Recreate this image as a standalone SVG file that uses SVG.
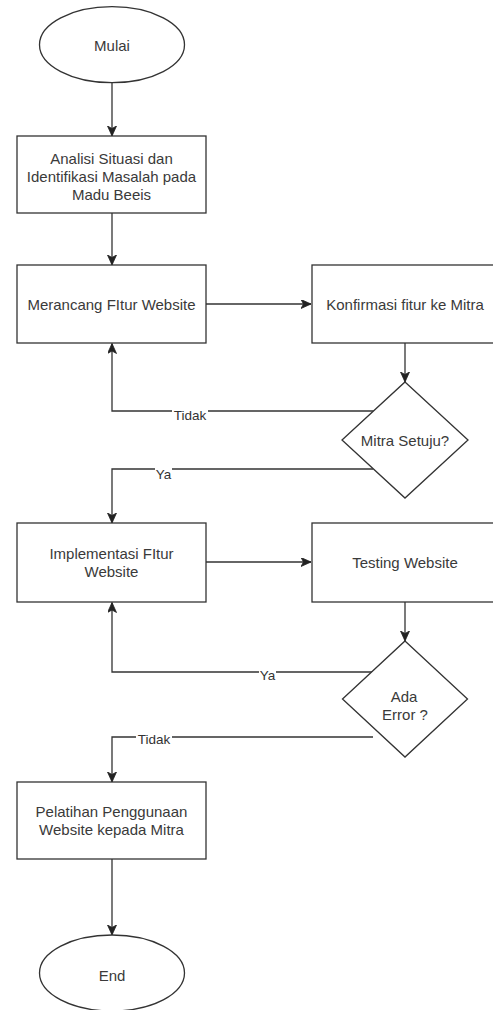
<svg xmlns="http://www.w3.org/2000/svg" width="493" height="1010" viewBox="0 0 493 1010">
  <style>
    .shape { fill: #ffffff; stroke: #333333; stroke-width: 1.3; }
    .edge { fill: none; stroke: #333333; stroke-width: 1.3; }
    .t { font-family: "Liberation Sans", Arial, sans-serif; font-size: 15px; fill: #3a3a3a; text-anchor: middle; }
    .lbl { font-family: "Liberation Sans", Arial, sans-serif; font-size: 13.5px; fill: #333333; text-anchor: middle; }
    .lblbg { fill: #ffffff; stroke: none; }
  </style>
  <defs>
    <marker id="arrow" markerUnits="userSpaceOnUse" markerWidth="11" markerHeight="10" refX="10" refY="4.5" orient="auto">
      <path d="M0,0 L10,4.5 L0,9 L2.5,4.5 Z" fill="#222222" stroke="#222222" stroke-width="0.8"/>
    </marker>
  </defs>
  <rect width="493" height="1010" fill="#ffffff"/>

  <g id="connectors">
    <line class="edge" x1="112" y1="83" x2="112" y2="136" marker-end="url(#arrow)"/>
    <line class="edge" x1="112" y1="213" x2="112" y2="265" marker-end="url(#arrow)"/>
    <line class="edge" x1="206" y1="304" x2="311" y2="304" marker-end="url(#arrow)"/>
    <line class="edge" x1="405" y1="343" x2="405" y2="382" marker-end="url(#arrow)"/>
    <polyline class="edge" points="373.5,411 112,411 112,343.5" marker-end="url(#arrow)"/>
    <polyline class="edge" points="373,469 112,469 112,523" marker-end="url(#arrow)"/>
    <line class="edge" x1="206" y1="562" x2="311" y2="562" marker-end="url(#arrow)"/>
    <line class="edge" x1="405" y1="602" x2="405" y2="641" marker-end="url(#arrow)"/>
    <polyline class="edge" points="373.5,672 112,672 112,602.5" marker-end="url(#arrow)"/>
    <polyline class="edge" points="373,737 112,737 112,782" marker-end="url(#arrow)"/>
    <line class="edge" x1="112" y1="859" x2="112" y2="935" marker-end="url(#arrow)"/>
    <g id="edge-labels">
      <rect class="lblbg" x="172" y="408" width="36" height="14"/>
      <text class="lbl" x="190" y="419.5">Tidak</text>
      <rect class="lblbg" x="155" y="466" width="17" height="14"/>
      <text class="lbl" x="163.5" y="479">Ya</text>
      <rect class="lblbg" x="259" y="667" width="17" height="14"/>
      <text class="lbl" x="267.5" y="680">Ya</text>
      <rect class="lblbg" x="136" y="732" width="36" height="14"/>
      <text class="lbl" x="154" y="744">Tidak</text>
    </g>
  </g>

  <g id="node-mulai">
    <ellipse class="shape" cx="112" cy="44.7" rx="72.5" ry="38"/>
    <text class="t" x="112" y="51">Mulai</text>
  </g>
  <g id="node-analisi">
    <rect class="shape" x="17" y="136" width="189" height="77"/>
    <text class="t" x="111.5" y="164">Analisi Situasi dan</text>
    <text class="t" x="111.5" y="182">Identifikasi Masalah pada</text>
    <text class="t" x="111.5" y="200">Madu Beeis</text>
  </g>
  <g id="node-merancang">
    <rect class="shape" x="17" y="265" width="189" height="78"/>
    <text class="t" x="111.5" y="309.5">Merancang FItur Website</text>
  </g>
  <g id="node-konfirmasi">
    <rect class="shape" x="312" y="265" width="186" height="78"/>
    <text class="t" x="405" y="309.5">Konfirmasi fitur ke Mitra</text>
  </g>
  <g id="node-setuju">
    <polygon class="shape" points="405,382 468,440 405,498 342,440"/>
    <text class="t" x="405" y="446">Mitra Setuju?</text>
  </g>
  <g id="node-implementasi">
    <rect class="shape" x="17" y="523" width="189" height="79"/>
    <text class="t" x="111.5" y="558.5">Implementasi FItur</text>
    <text class="t" x="111.5" y="577">Website</text>
  </g>
  <g id="node-testing">
    <rect class="shape" x="312" y="523" width="186" height="79"/>
    <text class="t" x="405" y="568">Testing Website</text>
  </g>
  <g id="node-error">
    <polygon class="shape" points="405,641 467.5,699 405,757 342.5,699"/>
    <text class="t" x="404" y="702">Ada</text>
    <text class="t" x="405" y="720">Error ?</text>
  </g>
  <g id="node-pelatihan">
    <rect class="shape" x="17" y="782" width="189" height="77"/>
    <text class="t" x="111.5" y="816.5">Pelatihan Penggunaan</text>
    <text class="t" x="111.5" y="834.5">Website kepada Mitra</text>
  </g>
  <g id="node-end">
    <ellipse class="shape" cx="112" cy="973" rx="72.5" ry="38"/>
    <text class="t" x="112" y="981">End</text>
  </g>
</svg>
